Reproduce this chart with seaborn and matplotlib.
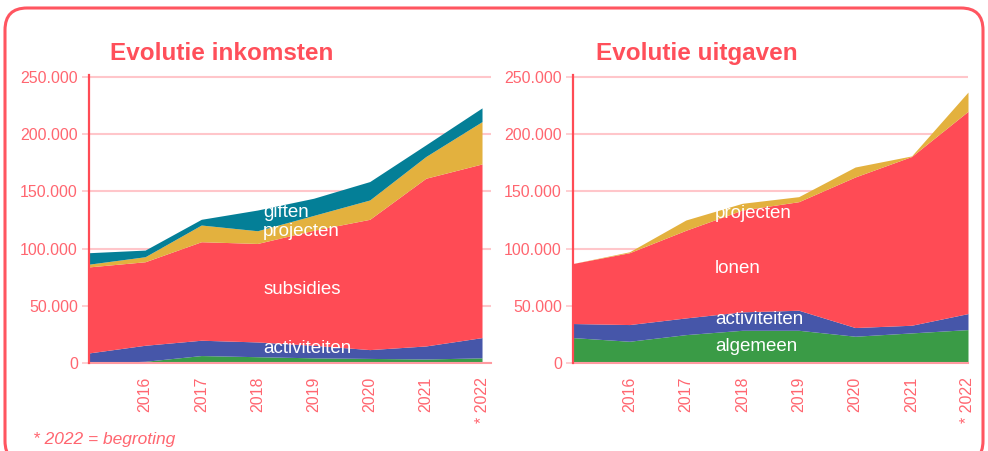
import matplotlib
matplotlib.use("Agg")
import matplotlib.pyplot as plt
import matplotlib.transforms as mtransforms
from matplotlib.patches import FancyBboxPatch
from matplotlib.ticker import FuncFormatter
import seaborn as sns

years = [2015, 2016, 2017, 2018, 2019, 2020, 2021, 2022]
year_labels = ["2016", "2017", "2018", "2019", "2020", "2021", "* 2022"]

# inkomsten, bottom to top
ink_algemeen = [0, 1500, 6500, 5500, 4500, 4000, 3500, 4500]
ink_activiteiten = [8800, 14000, 13400, 12900, 11000, 7700, 11400, 17700]
ink_subsidies = [75200, 73000, 86100, 86100, 100500, 113900, 146600, 151800]
ink_projecten = [2400, 4400, 14600, 11100, 13000, 16900, 19000, 37000]
ink_giften = [10000, 5800, 5000, 18100, 15000, 16100, 10200, 12000]

# uitgaven, bottom to top
uit_algemeen = [22200, 19000, 24800, 28600, 28600, 23400, 26300, 29200]
uit_activiteiten = [12300, 14600, 14600, 16100, 17500, 7600, 6700, 14000]
uit_lonen = [52500, 62800, 76600, 89000, 94900, 131600, 147500, 176800]
uit_projecten = [0, 800, 9000, 5900, 4400, 8700, 500, 16800]

green, blue, red, gold, teal = "#3A9B46", "#4656A9", "#FF4B55", "#E3B13E", "#047F97"
pink = "#FF4F5A"
tick_pink = "#FF6670"
grid_pink = "#FFC6CA"

sns.set_theme(style="white")
plt.rcParams["font.family"] = ["Liberation Sans", "DejaVu Sans"]

fig = plt.figure(figsize=(9.88, 4.51), dpi=100)
W, H = 988, 451

def px_axes(x0, x1, y_bottom, y_top):
    return fig.add_axes([x0 / W, (H - y_bottom) / H, (x1 - x0) / W, (y_bottom - y_top) / H])

ax1 = px_axes(89, 491, 363, 74.7)
ax2 = px_axes(573, 968, 363, 74.7)

ax1.stackplot(years, ink_algemeen, ink_activiteiten, ink_subsidies, ink_projecten, ink_giften,
              colors=sns.color_palette([green, blue, red, gold, teal]), linewidth=0, zorder=2)
ax2.stackplot(years, uit_algemeen, uit_activiteiten, uit_lonen, uit_projecten,
              colors=sns.color_palette([green, blue, red, gold]), linewidth=0, zorder=2)

ax1.set_xlim(2015, 2022.16)
ax2.set_xlim(2015, 2022)

fmt = FuncFormatter(lambda v, p: f"{int(v):,}".replace(",", "."))
shift = mtransforms.ScaledTranslation(-5 / 72, 0, fig.dpi_scale_trans)
for ax in (ax1, ax2):
    ax.set_facecolor("none")
    ax.set_ylim(0, 252000)
    ax.set_yticks(range(0, 250001, 50000))
    ax.yaxis.set_major_formatter(fmt)
    ax.set_xticks(years[1:])
    ax.set_xticklabels(year_labels, rotation=90)
    for lab in ax.get_xticklabels():
        lab.set_transform(lab.get_transform() + shift)
    ax.grid(axis="y", color=grid_pink, linewidth=1.5, zorder=0)
    ax.grid(axis="x", visible=False)
    ax.tick_params(axis="y", left=True, length=5, width=1.2, color=grid_pink,
                   labelcolor=tick_pink, labelsize=11.5, pad=3)
    ax.tick_params(axis="x", bottom=False, labelcolor=tick_pink, labelsize=11.5, pad=4)
    for s in ("top", "right"):
        ax.spines[s].set_visible(False)
    ax.spines["left"].set_color(red)
    ax.spines["left"].set_linewidth(1.6)
    ax.spines["bottom"].set_color("#FF9AA0")
    ax.spines["bottom"].set_linewidth(1.5)
    ax.spines["left"].set_zorder(3)

lab_kw = dict(color="white", fontsize=13.5, ha="left", va="center", zorder=4)
ax1.text(2018.1, 131400, "giften", **lab_kw)
ax1.text(2018.1, 114800, "projecten", **lab_kw)
ax1.text(2018.1, 64000, "subsidies", **lab_kw)
ax1.text(2018.1, 12300, "activiteiten", **lab_kw)
ax2.text(2017.52, 131000, "projecten", **lab_kw)
ax2.text(2017.52, 83000, "lonen", **lab_kw)
ax2.text(2017.52, 37700, "activiteiten", **lab_kw)
ax2.text(2017.52, 14000, "algemeen", **lab_kw)

fig.text(110 / W, (H - 60) / H, "Evolutie inkomsten", color=pink, fontsize=17.5,
         fontweight="bold", va="baseline")
fig.text(596 / W, (H - 60) / H, "Evolutie uitgaven", color=pink, fontsize=17.5,
         fontweight="bold", va="baseline")
fig.text(33 / W, (H - 444) / H, "* 2022 = begroting", color=tick_pink, fontsize=12.5,
         style="italic", va="baseline")

frame = FancyBboxPatch((5, -12), 978, H - 8 + 12, boxstyle="round,pad=0,rounding_size=22",
                       transform=mtransforms.IdentityTransform(), fill=False,
                       edgecolor="#FF5560", linewidth=2.2)
fig.patches.append(frame)

fig.savefig("out.png", dpi=100, facecolor="white")
